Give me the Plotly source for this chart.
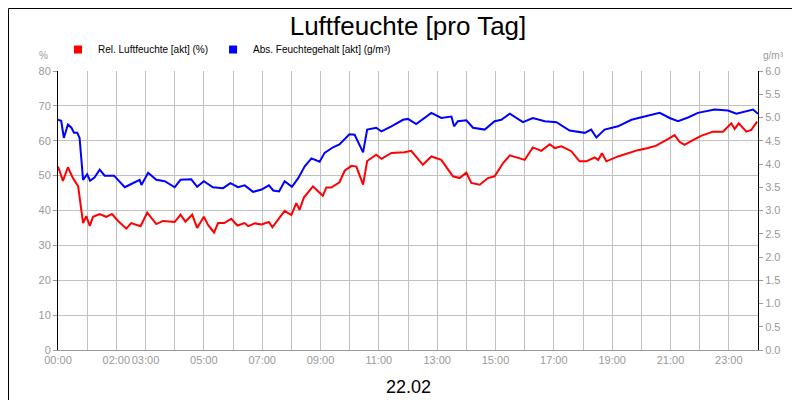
import plotly.graph_objects as go

# time in hours
rel_h = [0.0, 0.17, 0.34, 0.51, 0.69, 0.86, 0.97, 1.09, 1.2, 1.43, 1.65, 1.85, 2.06, 2.34, 2.51, 2.83,
         3.06, 3.37, 3.6, 4.0, 4.2, 4.37, 4.6, 4.77, 5.0, 5.15, 5.35, 5.49, 5.7, 5.94, 6.15, 6.4, 6.52,
         6.75, 6.98, 7.23, 7.35, 7.55, 7.77, 8.0, 8.17, 8.28, 8.43, 8.74, 9.08, 9.2, 9.37, 9.65, 9.83,
         10.06, 10.23, 10.46, 10.6, 10.91, 11.09, 11.43, 11.88, 12.11, 12.51, 12.8, 13.14, 13.54, 13.77,
         14.0, 14.17, 14.46, 14.74, 14.97, 15.26, 15.49, 15.77, 16.0, 16.28, 16.57, 16.86, 17.03, 17.26,
         17.6, 17.88, 18.11, 18.4, 18.52, 18.65, 18.8, 19.2, 19.54, 19.88, 20.23, 20.51, 20.91, 21.14,
         21.31, 21.48, 21.77, 22.05, 22.45, 22.8, 23.08, 23.2, 23.34, 23.6, 23.77, 23.97]
rel_val = [52.6, 48.5, 52.4, 49.3, 47.0, 36.4, 38.4, 35.6, 38.2, 39.0, 38.2, 39.0, 37.0, 34.8, 36.4, 35.5,
           39.4, 36.1, 37.0, 36.7, 38.8, 36.8, 38.8, 35.0, 38.2, 35.8, 33.7, 36.4, 36.4, 37.6, 35.7, 36.4, 35.5,
           36.3, 36.0, 36.7, 35.2, 37.3, 39.9, 38.7, 42.1, 40.2, 43.7, 46.9, 44.2, 46.6, 46.6, 48.1, 51.4,
           52.8, 52.6, 47.4, 54.2, 56.0, 54.8, 56.5, 56.7, 57.1, 53.1, 55.5, 54.5, 49.8, 49.3,
           50.9, 47.9, 47.4, 49.3, 49.8, 53.6, 55.8, 55.2, 54.5, 58.1, 57.1, 59.0, 57.9, 58.4,
           57.0, 54.1, 54.1, 55.2, 54.5, 56.4, 54.1, 55.5, 56.4, 57.3, 57.9, 58.6, 60.5, 61.6,
           59.7, 58.8, 60.2, 61.4, 62.6, 62.6, 65.0, 63.4, 65.0, 62.6, 63.1, 65.5]

abs_h = [0.0, 0.11, 0.2, 0.34, 0.46, 0.55, 0.66, 0.74, 0.86, 1.0, 1.1, 1.25, 1.43, 1.6, 1.92, 2.29, 2.51,
         2.8, 2.86, 3.09, 3.37, 3.66, 4.0, 4.2, 4.57, 4.77, 5.0, 5.31, 5.66, 5.91, 6.17, 6.4, 6.69, 6.98,
         7.23, 7.38, 7.58, 7.77, 8.02, 8.23, 8.46, 8.69, 8.97, 9.14, 9.43, 9.65, 9.99, 10.17, 10.46, 10.6,
         10.91, 11.09, 11.43, 11.83, 12.0, 12.28, 12.8, 13.14, 13.49, 13.58, 13.71, 14.0, 14.23, 14.63,
         14.97, 15.2, 15.49, 15.94, 16.28, 16.69, 17.09, 17.54, 18.06, 18.28, 18.46, 18.74, 19.2, 19.66,
         20.11, 20.63, 20.97, 21.26, 21.6, 21.94, 22.51, 22.97, 23.26, 23.54, 23.83, 24.0]
abs_val = [4.95, 4.93, 4.56, 4.85, 4.78, 4.67, 4.67, 4.56, 3.66, 3.78, 3.64, 3.71, 3.88, 3.75, 3.75, 3.5, 3.57,
           3.66, 3.55, 3.81, 3.66, 3.63, 3.5, 3.66, 3.67, 3.51, 3.63, 3.5, 3.48, 3.59, 3.5, 3.54, 3.4, 3.45,
           3.54, 3.43, 3.41, 3.63, 3.51, 3.69, 3.95, 4.12, 4.05, 4.24, 4.36, 4.42, 4.64, 4.63, 4.25, 4.74,
           4.78, 4.7, 4.81, 4.95, 4.97, 4.86, 5.1, 4.99, 5.02, 4.81, 4.92, 4.94, 4.78, 4.74,
           4.92, 4.95, 5.08, 4.9, 4.99, 4.92, 4.9, 4.72, 4.67, 4.74, 4.57, 4.74, 4.81, 4.95,
           5.02, 5.1, 4.99, 4.92, 5.0, 5.1, 5.17, 5.15, 5.08, 5.13, 5.17, 5.08]

hour_ticks = list(range(25))
hour_labels = {0: "00:00", 2: "02:00", 3: "03:00", 5: "05:00", 7: "07:00", 9: "09:00", 11: "11:00",
               13: "13:00", 15: "15:00", 17: "17:00", 19: "19:00", 21: "21:00", 23: "23:00"}

fig = go.Figure()
fig.add_trace(go.Scatter(x=rel_h, y=rel_val, mode="lines", line=dict(color="#ff0000", width=2),
                         showlegend=False))
fig.add_trace(go.Scatter(x=abs_h, y=abs_val, mode="lines", line=dict(color="#0000ff", width=2),
                         yaxis="y2", showlegend=False))
# legend entries with square markers
fig.add_trace(go.Scatter(x=[None], y=[None], mode="markers", name="Rel. Luftfeuchte [akt] (%)",
                         marker=dict(symbol="square", size=8, color="#ff0000")))
fig.add_trace(go.Scatter(x=[None], y=[None], mode="markers", name="Abs. Feuchtegehalt [akt] (g/m³)",
                         marker=dict(symbol="square", size=8, color="#0000ff")))

tick_font = dict(family="Arial", size=11, color="#999999")
fig.update_layout(
    width=800, height=400, plot_bgcolor="white", paper_bgcolor="white",
    margin=dict(l=50, r=50, t=63, b=58, autoexpand=False),
    font=dict(family="Arial"),
    title=dict(text="Luftfeuchte [pro Tag]", x=0.5, xanchor="center", y=0.955, yanchor="middle",
               font=dict(size=26, color="black")),
    legend=dict(orientation="h", x=0.0, y=1.025, xanchor="left", yanchor="bottom",
                font=dict(size=10, color="black"), itemwidth=30, tracegroupgap=0,
                bgcolor="rgba(0,0,0,0)"),
    xaxis=dict(range=[0, 24], tickvals=hour_ticks, ticktext=[hour_labels.get(h, "") for h in hour_ticks],
               showgrid=True, gridcolor="#c0c0c0", tickfont=tick_font, zeroline=False, tickangle=0,
               automargin=False, showline=True, linecolor="#999999", ticks=""),
    yaxis=dict(range=[0, 80], dtick=10, showgrid=True, gridcolor="#c0c0c0", tickfont=tick_font,
               zeroline=False, showline=True, linecolor="black", ticks="outside", ticklen=4,
               tickcolor="#999999", automargin=False),
    yaxis2=dict(range=[0, 6], dtick=0.5, tickformat=".1f", overlaying="y", side="right",
                showgrid=False, tickfont=tick_font, zeroline=False, showline=True, linecolor="black",
                ticks="outside", ticklen=4, tickcolor="#999999", automargin=False),
    annotations=[
        dict(text="%", xref="paper", yref="paper", x=-0.012, y=1.03, showarrow=False,
             xanchor="right", yanchor="bottom", font=dict(size=10, color="#999999")),
        dict(text="g/m³", xref="paper", yref="paper", x=1.005, y=1.03, showarrow=False,
             xanchor="left", yanchor="bottom", font=dict(size=10, color="#999999")),
        dict(text="22.02", xref="paper", yref="paper", x=0.5, y=-0.09, showarrow=False,
             yanchor="top", font=dict(size=18, color="black")),
    ],
    shapes=[dict(type="rect", xref="paper", yref="paper", x0=-49.5 / 700, x1=1 + 49.5 / 700,
                 y0=-57.5 / 279, y1=1 + 62.5 / 279, line=dict(color="black", width=1))],
)

fig.write_html("out.html")
